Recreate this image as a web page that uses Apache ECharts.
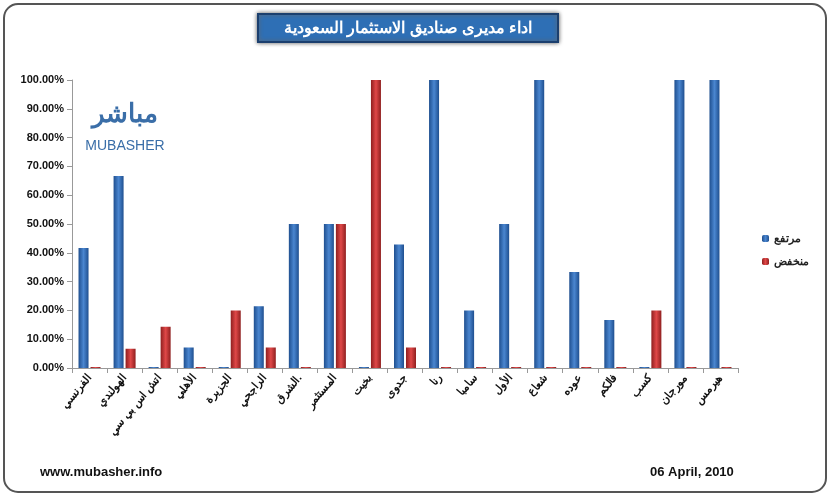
<!DOCTYPE html><html><head><meta charset="utf-8"><script src="https://cdn.jsdelivr.net/npm/echarts@6/dist/echarts.min.js"></script>
<style>body{margin:0;background:#fff}#c{width:830px;height:496px}</style></head><body><div id="c"></div><script>
const categories=["الفرنسي","الهولندي","اتش اس بي سي","الأهلي","الجزيرة","الراجحي","الشرق.","المستثمر","بخيت","جدوى","رنا","سامبا","الأول","شعاع","عوده","فالكم","كسب","مورجان","هيرمس"];
const highVals=[41.7,66.7,0,7.1,0,21.4,50,50,0,42.9,100,20,50,100,33.3,16.7,0,100,100];
const lowVals=[0,6.7,14.3,0,20,7.1,0,50,100,7.1,0,0,0,0,0,0,20,0,0];
const c=echarts.init(document.getElementById('c'));
c.setOption({
graphic:[
{type:'rect',shape:{x:4,y:4,width:822,height:488,r:14},style:{fill:'none',stroke:'#555',lineWidth:2}},
{type:'rect',shape:{x:258,y:14,width:300,height:28},style:{fill:'#2e6fb5',stroke:'#1b3f6e',lineWidth:2,shadowBlur:4,shadowColor:'#666'}},
{type:'text',x:408,y:28,style:{text:'اداء مديرى صناديق الاستثمار السعودية',fill:'#fff',font:'bold 16px "Noto Sans"',align:'center',verticalAlign:'middle'}},
{type:'text',x:125,y:115,style:{text:'مباشر',fill:'#3a6ea8',font:'bold 26px "Noto Sans"',align:'center',verticalAlign:'middle'}},
{type:'text',x:125,y:146,style:{text:'MUBASHER',fill:'#3a6ea8',font:'14px "Liberation Sans"',align:'center',verticalAlign:'middle'}},
{type:'text',x:40,y:472,style:{text:'www.mubasher.info',fill:'#111',font:'bold 13px "Liberation Sans"',verticalAlign:'middle'}},
{type:'text',x:650,y:472,style:{text:'06 April, 2010',fill:'#111',font:'bold 13px "Liberation Sans"',verticalAlign:'middle'}}
],
legend:{orient:'vertical',right:16,top:228,itemWidth:7,itemHeight:7,itemGap:12,textStyle:{fontSize:11,fontWeight:'bold',color:'#222'},data:['مرتفع','منخفض']},
grid:{left:72,right:92,top:80,bottom:128},
xAxis:{type:'category',data:categories,axisLabel:{rotate:50,interval:0,fontSize:11,fontWeight:'bold',color:'#111'},axisTick:{show:true,alignWithLabel:false},axisLine:{lineStyle:{color:'#999'}}},
yAxis:{type:'value',min:0,max:100,interval:10,axisLabel:{formatter:v=>v.toFixed(2)+'%',fontSize:11,fontWeight:'bold',color:'#111'},splitLine:{show:false},axisLine:{show:true,lineStyle:{color:'#999'}},axisTick:{show:true}},
series:[
{name:'مرتفع',type:'bar',data:highVals,barWidth:10,barGap:'20%',barMinHeight:1,itemStyle:{color:{type:'linear',x:0,y:0,x2:1,y2:0,colorStops:[{offset:0,color:'#1f4f8f'},{offset:0.5,color:'#4a86d0'},{offset:1,color:'#1f4f8f'}]}}},
{name:'منخفض',type:'bar',data:lowVals,barWidth:10,barMinHeight:1,itemStyle:{color:{type:'linear',x:0,y:0,x2:1,y2:0,colorStops:[{offset:0,color:'#8f1f1f'},{offset:0.5,color:'#e04848'},{offset:1,color:'#8f1f1f'}]}}}
]});
</script></body></html>
